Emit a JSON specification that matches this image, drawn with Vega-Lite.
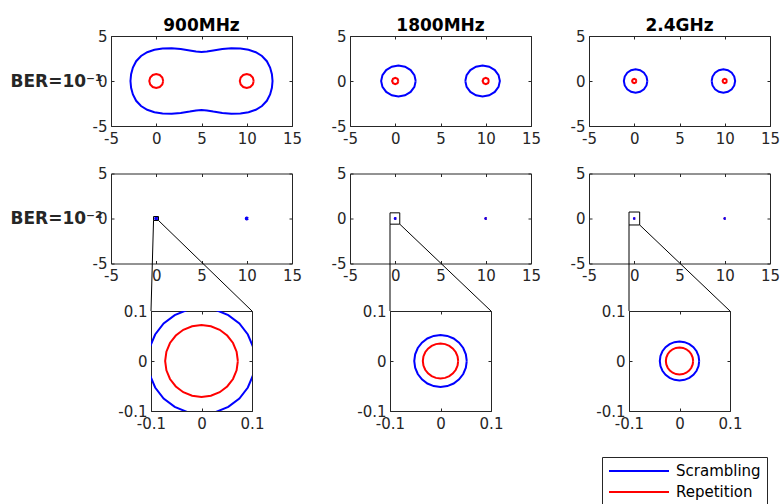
{
  "$schema": "https://vega.github.io/schema/vega-lite/v6.json",
  "autosize": "none",
  "padding": {"left": 111, "top": 36, "right": 672, "bottom": 468},
  "config": {
    "font": "DejaVu Sans",
    "view": {"stroke": null},
    "locale": {"number": {"decimal": ".", "thousands": ",", "grouping": [3], "currency": ["$", ""], "minus": "-"}},
    "axis": {"grid": false, "domainColor": "#262626", "domainWidth": 1, "tickColor": "#262626", "tickWidth": 1, "tickSize": -3, "labelColor": "#262626", "labelFont": "DejaVu Sans", "labelFontSize": 15, "labelFlush": false, "labelOverlap": false},
    "axisBottom": {"labelPadding": 8},
    "axisLeft": {"labelPadding": 7},
    "axisTop": {"labels": false},
    "axisRight": {"labels": false},
    "title": {"font": "DejaVu Sans", "fontSize": 17, "fontWeight": "bold", "color": "#000000", "frame": "group", "anchor": "middle", "baseline": "alphabetic", "offset": -6}
  },
  "datasets": {
    "a1": [
      {"m":"Scrambling","c":1,"x":-2.85,"y":0},{"m":"Scrambling","c":1,"x":-2.78,"y":0.75},{"m":"Scrambling","c":1,"x":-2.58,"y":1.5},{"m":"Scrambling","c":1,"x":-2.22,"y":2.2},{"m":"Scrambling","c":1,"x":-1.68,"y":2.78},{"m":"Scrambling","c":1,"x":-1,"y":3.2},{"m":"Scrambling","c":1,"x":-0.2,"y":3.47},{"m":"Scrambling","c":1,"x":0.7,"y":3.6},{"m":"Scrambling","c":1,"x":1.7,"y":3.63},{"m":"Scrambling","c":1,"x":2.7,"y":3.55},{"m":"Scrambling","c":1,"x":3.7,"y":3.4},{"m":"Scrambling","c":1,"x":4.4,"y":3.27},{"m":"Scrambling","c":1,"x":5,"y":3.23},{"m":"Scrambling","c":1,"x":5.6,"y":3.27},{"m":"Scrambling","c":1,"x":6.3,"y":3.4},{"m":"Scrambling","c":1,"x":7.3,"y":3.55},{"m":"Scrambling","c":1,"x":8.3,"y":3.63},{"m":"Scrambling","c":1,"x":9.3,"y":3.6},{"m":"Scrambling","c":1,"x":10.2,"y":3.47},{"m":"Scrambling","c":1,"x":11,"y":3.2},{"m":"Scrambling","c":1,"x":11.68,"y":2.78},{"m":"Scrambling","c":1,"x":12.22,"y":2.2},{"m":"Scrambling","c":1,"x":12.58,"y":1.5},{"m":"Scrambling","c":1,"x":12.78,"y":0.75},{"m":"Scrambling","c":1,"x":12.85,"y":0},
      {"m":"Scrambling","c":1,"x":12.78,"y":-0.75},{"m":"Scrambling","c":1,"x":12.58,"y":-1.5},{"m":"Scrambling","c":1,"x":12.22,"y":-2.2},{"m":"Scrambling","c":1,"x":11.68,"y":-2.78},{"m":"Scrambling","c":1,"x":11,"y":-3.2},{"m":"Scrambling","c":1,"x":10.2,"y":-3.47},{"m":"Scrambling","c":1,"x":9.3,"y":-3.6},{"m":"Scrambling","c":1,"x":8.3,"y":-3.63},{"m":"Scrambling","c":1,"x":7.3,"y":-3.55},{"m":"Scrambling","c":1,"x":6.3,"y":-3.4},{"m":"Scrambling","c":1,"x":5.6,"y":-3.27},{"m":"Scrambling","c":1,"x":5,"y":-3.23},{"m":"Scrambling","c":1,"x":4.4,"y":-3.27},{"m":"Scrambling","c":1,"x":3.7,"y":-3.4},{"m":"Scrambling","c":1,"x":2.7,"y":-3.55},{"m":"Scrambling","c":1,"x":1.7,"y":-3.63},{"m":"Scrambling","c":1,"x":0.7,"y":-3.6},{"m":"Scrambling","c":1,"x":-0.2,"y":-3.47},{"m":"Scrambling","c":1,"x":-1,"y":-3.2},{"m":"Scrambling","c":1,"x":-1.68,"y":-2.78},{"m":"Scrambling","c":1,"x":-2.22,"y":-2.2},{"m":"Scrambling","c":1,"x":-2.58,"y":-1.5},{"m":"Scrambling","c":1,"x":-2.78,"y":-0.75},{"m":"Scrambling","c":1,"x":-2.85,"y":0},
      {"m":"Repetition","c":2,"x":0.77,"y":0},{"m":"Repetition","c":2,"x":0.667,"y":0.385},{"m":"Repetition","c":2,"x":0.385,"y":0.667},{"m":"Repetition","c":2,"x":0,"y":0.77},{"m":"Repetition","c":2,"x":-0.385,"y":0.667},{"m":"Repetition","c":2,"x":-0.667,"y":0.385},{"m":"Repetition","c":2,"x":-0.77,"y":0},{"m":"Repetition","c":2,"x":-0.667,"y":-0.385},{"m":"Repetition","c":2,"x":-0.385,"y":-0.667},{"m":"Repetition","c":2,"x":0,"y":-0.77},{"m":"Repetition","c":2,"x":0.385,"y":-0.667},{"m":"Repetition","c":2,"x":0.667,"y":-0.385},{"m":"Repetition","c":2,"x":0.77,"y":0},
      {"m":"Repetition","c":3,"x":10.77,"y":0},{"m":"Repetition","c":3,"x":10.667,"y":0.385},{"m":"Repetition","c":3,"x":10.385,"y":0.667},{"m":"Repetition","c":3,"x":10,"y":0.77},{"m":"Repetition","c":3,"x":9.615,"y":0.667},{"m":"Repetition","c":3,"x":9.333,"y":0.385},{"m":"Repetition","c":3,"x":9.23,"y":0},{"m":"Repetition","c":3,"x":9.333,"y":-0.385},{"m":"Repetition","c":3,"x":9.615,"y":-0.667},{"m":"Repetition","c":3,"x":10,"y":-0.77},{"m":"Repetition","c":3,"x":10.385,"y":-0.667},{"m":"Repetition","c":3,"x":10.667,"y":-0.385},{"m":"Repetition","c":3,"x":10.77,"y":0}
    ],
    "b1": [
      {"m":"Scrambling","c":1,"x":2.26,"y":0},{"m":"Scrambling","c":1,"x":2.115,"y":0.658},{"m":"Scrambling","c":1,"x":1.701,"y":1.216},{"m":"Scrambling","c":1,"x":1.081,"y":1.589},{"m":"Scrambling","c":1,"x":0.35,"y":1.72},{"m":"Scrambling","c":1,"x":-0.381,"y":1.589},{"m":"Scrambling","c":1,"x":-1.001,"y":1.216},{"m":"Scrambling","c":1,"x":-1.415,"y":0.658},{"m":"Scrambling","c":1,"x":-1.56,"y":0},{"m":"Scrambling","c":1,"x":-1.415,"y":-0.658},{"m":"Scrambling","c":1,"x":-1.001,"y":-1.216},{"m":"Scrambling","c":1,"x":-0.381,"y":-1.589},{"m":"Scrambling","c":1,"x":0.35,"y":-1.72},{"m":"Scrambling","c":1,"x":1.081,"y":-1.589},{"m":"Scrambling","c":1,"x":1.701,"y":-1.216},{"m":"Scrambling","c":1,"x":2.115,"y":-0.658},{"m":"Scrambling","c":1,"x":2.26,"y":0},
      {"m":"Scrambling","c":2,"x":7.74,"y":0},{"m":"Scrambling","c":2,"x":7.885,"y":0.658},{"m":"Scrambling","c":2,"x":8.299,"y":1.216},{"m":"Scrambling","c":2,"x":8.919,"y":1.589},{"m":"Scrambling","c":2,"x":9.65,"y":1.72},{"m":"Scrambling","c":2,"x":10.381,"y":1.589},{"m":"Scrambling","c":2,"x":11.001,"y":1.216},{"m":"Scrambling","c":2,"x":11.415,"y":0.658},{"m":"Scrambling","c":2,"x":11.56,"y":0},{"m":"Scrambling","c":2,"x":11.415,"y":-0.658},{"m":"Scrambling","c":2,"x":11.001,"y":-1.216},{"m":"Scrambling","c":2,"x":10.381,"y":-1.589},{"m":"Scrambling","c":2,"x":9.65,"y":-1.72},{"m":"Scrambling","c":2,"x":8.919,"y":-1.589},{"m":"Scrambling","c":2,"x":8.299,"y":-1.216},{"m":"Scrambling","c":2,"x":7.885,"y":-0.658},{"m":"Scrambling","c":2,"x":7.74,"y":0},
      {"m":"Repetition","c":3,"x":0.35,"y":0},{"m":"Repetition","c":3,"x":0.247,"y":0.247},{"m":"Repetition","c":3,"x":0,"y":0.35},{"m":"Repetition","c":3,"x":-0.247,"y":0.247},{"m":"Repetition","c":3,"x":-0.35,"y":0},{"m":"Repetition","c":3,"x":-0.247,"y":-0.247},{"m":"Repetition","c":3,"x":0,"y":-0.35},{"m":"Repetition","c":3,"x":0.247,"y":-0.247},{"m":"Repetition","c":3,"x":0.35,"y":0},
      {"m":"Repetition","c":4,"x":10.35,"y":0},{"m":"Repetition","c":4,"x":10.247,"y":0.247},{"m":"Repetition","c":4,"x":10,"y":0.35},{"m":"Repetition","c":4,"x":9.753,"y":0.247},{"m":"Repetition","c":4,"x":9.65,"y":0},{"m":"Repetition","c":4,"x":9.753,"y":-0.247},{"m":"Repetition","c":4,"x":10,"y":-0.35},{"m":"Repetition","c":4,"x":10.247,"y":-0.247},{"m":"Repetition","c":4,"x":10.35,"y":0}
    ],
    "c1": [
      {"m":"Scrambling","c":1,"x":1.45,"y":0},{"m":"Scrambling","c":1,"x":1.351,"y":0.497},{"m":"Scrambling","c":1,"x":1.069,"y":0.919},{"m":"Scrambling","c":1,"x":0.647,"y":1.201},{"m":"Scrambling","c":1,"x":0.15,"y":1.3},{"m":"Scrambling","c":1,"x":-0.347,"y":1.201},{"m":"Scrambling","c":1,"x":-0.769,"y":0.919},{"m":"Scrambling","c":1,"x":-1.051,"y":0.497},{"m":"Scrambling","c":1,"x":-1.15,"y":0},{"m":"Scrambling","c":1,"x":-1.051,"y":-0.497},{"m":"Scrambling","c":1,"x":-0.769,"y":-0.919},{"m":"Scrambling","c":1,"x":-0.347,"y":-1.201},{"m":"Scrambling","c":1,"x":0.15,"y":-1.3},{"m":"Scrambling","c":1,"x":0.647,"y":-1.201},{"m":"Scrambling","c":1,"x":1.069,"y":-0.919},{"m":"Scrambling","c":1,"x":1.351,"y":-0.497},{"m":"Scrambling","c":1,"x":1.45,"y":0},
      {"m":"Scrambling","c":2,"x":8.55,"y":0},{"m":"Scrambling","c":2,"x":8.649,"y":0.497},{"m":"Scrambling","c":2,"x":8.931,"y":0.919},{"m":"Scrambling","c":2,"x":9.353,"y":1.201},{"m":"Scrambling","c":2,"x":9.85,"y":1.3},{"m":"Scrambling","c":2,"x":10.347,"y":1.201},{"m":"Scrambling","c":2,"x":10.769,"y":0.919},{"m":"Scrambling","c":2,"x":11.051,"y":0.497},{"m":"Scrambling","c":2,"x":11.15,"y":0},{"m":"Scrambling","c":2,"x":11.051,"y":-0.497},{"m":"Scrambling","c":2,"x":10.769,"y":-0.919},{"m":"Scrambling","c":2,"x":10.347,"y":-1.201},{"m":"Scrambling","c":2,"x":9.85,"y":-1.3},{"m":"Scrambling","c":2,"x":9.353,"y":-1.201},{"m":"Scrambling","c":2,"x":8.931,"y":-0.919},{"m":"Scrambling","c":2,"x":8.649,"y":-0.497},{"m":"Scrambling","c":2,"x":8.55,"y":0},
      {"m":"Repetition","c":3,"x":0.24,"y":0},{"m":"Repetition","c":3,"x":0.17,"y":0.17},{"m":"Repetition","c":3,"x":0,"y":0.24},{"m":"Repetition","c":3,"x":-0.17,"y":0.17},{"m":"Repetition","c":3,"x":-0.24,"y":0},{"m":"Repetition","c":3,"x":-0.17,"y":-0.17},{"m":"Repetition","c":3,"x":0,"y":-0.24},{"m":"Repetition","c":3,"x":0.17,"y":-0.17},{"m":"Repetition","c":3,"x":0.24,"y":0},
      {"m":"Repetition","c":4,"x":10.24,"y":0},{"m":"Repetition","c":4,"x":10.17,"y":0.17},{"m":"Repetition","c":4,"x":10,"y":0.24},{"m":"Repetition","c":4,"x":9.83,"y":0.17},{"m":"Repetition","c":4,"x":9.76,"y":0},{"m":"Repetition","c":4,"x":9.83,"y":-0.17},{"m":"Repetition","c":4,"x":10,"y":-0.24},{"m":"Repetition","c":4,"x":10.17,"y":-0.17},{"m":"Repetition","c":4,"x":10.24,"y":0}
    ],
    "a2": [
      {"m":"Scrambling","c":1,"x":0.106,"y":0},{"m":"Scrambling","c":1,"x":0.1024,"y":0.0274},{"m":"Scrambling","c":1,"x":0.0918,"y":0.053},{"m":"Scrambling","c":1,"x":0.075,"y":0.075},{"m":"Scrambling","c":1,"x":0.053,"y":0.0918},{"m":"Scrambling","c":1,"x":0.0274,"y":0.1024},{"m":"Scrambling","c":1,"x":0,"y":0.106},{"m":"Scrambling","c":1,"x":-0.0274,"y":0.1024},{"m":"Scrambling","c":1,"x":-0.053,"y":0.0918},{"m":"Scrambling","c":1,"x":-0.075,"y":0.075},{"m":"Scrambling","c":1,"x":-0.0918,"y":0.053},{"m":"Scrambling","c":1,"x":-0.1024,"y":0.0274},{"m":"Scrambling","c":1,"x":-0.106,"y":0},{"m":"Scrambling","c":1,"x":-0.1024,"y":-0.0274},{"m":"Scrambling","c":1,"x":-0.0918,"y":-0.053},{"m":"Scrambling","c":1,"x":-0.075,"y":-0.075},{"m":"Scrambling","c":1,"x":-0.053,"y":-0.0918},{"m":"Scrambling","c":1,"x":-0.0274,"y":-0.1024},{"m":"Scrambling","c":1,"x":0,"y":-0.106},{"m":"Scrambling","c":1,"x":0.0274,"y":-0.1024},{"m":"Scrambling","c":1,"x":0.053,"y":-0.0918},{"m":"Scrambling","c":1,"x":0.075,"y":-0.075},{"m":"Scrambling","c":1,"x":0.0918,"y":-0.053},{"m":"Scrambling","c":1,"x":0.1024,"y":-0.0274},{"m":"Scrambling","c":1,"x":0.106,"y":0},
      {"m":"Scrambling","c":2,"x":10.106,"y":0},{"m":"Scrambling","c":2,"x":10.075,"y":0.075},{"m":"Scrambling","c":2,"x":10,"y":0.106},{"m":"Scrambling","c":2,"x":9.925,"y":0.075},{"m":"Scrambling","c":2,"x":9.894,"y":0},{"m":"Scrambling","c":2,"x":9.925,"y":-0.075},{"m":"Scrambling","c":2,"x":10,"y":-0.106},{"m":"Scrambling","c":2,"x":10.075,"y":-0.075},{"m":"Scrambling","c":2,"x":10.106,"y":0},
      {"m":"Repetition","c":3,"x":0.072,"y":0},{"m":"Repetition","c":3,"x":0.0695,"y":0.0186},{"m":"Repetition","c":3,"x":0.0624,"y":0.036},{"m":"Repetition","c":3,"x":0.0509,"y":0.0509},{"m":"Repetition","c":3,"x":0.036,"y":0.0624},{"m":"Repetition","c":3,"x":0.0186,"y":0.0695},{"m":"Repetition","c":3,"x":0,"y":0.072},{"m":"Repetition","c":3,"x":-0.0186,"y":0.0695},{"m":"Repetition","c":3,"x":-0.036,"y":0.0624},{"m":"Repetition","c":3,"x":-0.0509,"y":0.0509},{"m":"Repetition","c":3,"x":-0.0624,"y":0.036},{"m":"Repetition","c":3,"x":-0.0695,"y":0.0186},{"m":"Repetition","c":3,"x":-0.072,"y":0},{"m":"Repetition","c":3,"x":-0.0695,"y":-0.0186},{"m":"Repetition","c":3,"x":-0.0624,"y":-0.036},{"m":"Repetition","c":3,"x":-0.0509,"y":-0.0509},{"m":"Repetition","c":3,"x":-0.036,"y":-0.0624},{"m":"Repetition","c":3,"x":-0.0186,"y":-0.0695},{"m":"Repetition","c":3,"x":0,"y":-0.072},{"m":"Repetition","c":3,"x":0.0186,"y":-0.0695},{"m":"Repetition","c":3,"x":0.036,"y":-0.0624},{"m":"Repetition","c":3,"x":0.0509,"y":-0.0509},{"m":"Repetition","c":3,"x":0.0624,"y":-0.036},{"m":"Repetition","c":3,"x":0.0695,"y":-0.0186},{"m":"Repetition","c":3,"x":0.072,"y":0},
      {"m":"Repetition","c":4,"x":10.072,"y":0},{"m":"Repetition","c":4,"x":10.051,"y":0.051},{"m":"Repetition","c":4,"x":10,"y":0.072},{"m":"Repetition","c":4,"x":9.949,"y":0.051},{"m":"Repetition","c":4,"x":9.928,"y":0},{"m":"Repetition","c":4,"x":9.949,"y":-0.051},{"m":"Repetition","c":4,"x":10,"y":-0.072},{"m":"Repetition","c":4,"x":10.051,"y":-0.051},{"m":"Repetition","c":4,"x":10.072,"y":0}
    ],
    "b2": [
      {"m":"Scrambling","c":1,"x":0.052,"y":0},{"m":"Scrambling","c":1,"x":0.0502,"y":0.0135},{"m":"Scrambling","c":1,"x":0.045,"y":0.026},{"m":"Scrambling","c":1,"x":0.0368,"y":0.0368},{"m":"Scrambling","c":1,"x":0.026,"y":0.045},{"m":"Scrambling","c":1,"x":0.0135,"y":0.0502},{"m":"Scrambling","c":1,"x":0,"y":0.052},{"m":"Scrambling","c":1,"x":-0.0135,"y":0.0502},{"m":"Scrambling","c":1,"x":-0.026,"y":0.045},{"m":"Scrambling","c":1,"x":-0.0368,"y":0.0368},{"m":"Scrambling","c":1,"x":-0.045,"y":0.026},{"m":"Scrambling","c":1,"x":-0.0502,"y":0.0135},{"m":"Scrambling","c":1,"x":-0.052,"y":0},{"m":"Scrambling","c":1,"x":-0.0502,"y":-0.0135},{"m":"Scrambling","c":1,"x":-0.045,"y":-0.026},{"m":"Scrambling","c":1,"x":-0.0368,"y":-0.0368},{"m":"Scrambling","c":1,"x":-0.026,"y":-0.045},{"m":"Scrambling","c":1,"x":-0.0135,"y":-0.0502},{"m":"Scrambling","c":1,"x":0,"y":-0.052},{"m":"Scrambling","c":1,"x":0.0135,"y":-0.0502},{"m":"Scrambling","c":1,"x":0.026,"y":-0.045},{"m":"Scrambling","c":1,"x":0.0368,"y":-0.0368},{"m":"Scrambling","c":1,"x":0.045,"y":-0.026},{"m":"Scrambling","c":1,"x":0.0502,"y":-0.0135},{"m":"Scrambling","c":1,"x":0.052,"y":0},
      {"m":"Scrambling","c":2,"x":10.052,"y":0},{"m":"Scrambling","c":2,"x":10.037,"y":0.037},{"m":"Scrambling","c":2,"x":10,"y":0.052},{"m":"Scrambling","c":2,"x":9.963,"y":0.037},{"m":"Scrambling","c":2,"x":9.948,"y":0},{"m":"Scrambling","c":2,"x":9.963,"y":-0.037},{"m":"Scrambling","c":2,"x":10,"y":-0.052},{"m":"Scrambling","c":2,"x":10.037,"y":-0.037},{"m":"Scrambling","c":2,"x":10.052,"y":0},
      {"m":"Repetition","c":3,"x":0.035,"y":0},{"m":"Repetition","c":3,"x":0.0338,"y":0.0091},{"m":"Repetition","c":3,"x":0.0303,"y":0.0175},{"m":"Repetition","c":3,"x":0.0247,"y":0.0247},{"m":"Repetition","c":3,"x":0.0175,"y":0.0303},{"m":"Repetition","c":3,"x":0.0091,"y":0.0338},{"m":"Repetition","c":3,"x":0,"y":0.035},{"m":"Repetition","c":3,"x":-0.0091,"y":0.0338},{"m":"Repetition","c":3,"x":-0.0175,"y":0.0303},{"m":"Repetition","c":3,"x":-0.0247,"y":0.0247},{"m":"Repetition","c":3,"x":-0.0303,"y":0.0175},{"m":"Repetition","c":3,"x":-0.0338,"y":0.0091},{"m":"Repetition","c":3,"x":-0.035,"y":0},{"m":"Repetition","c":3,"x":-0.0338,"y":-0.0091},{"m":"Repetition","c":3,"x":-0.0303,"y":-0.0175},{"m":"Repetition","c":3,"x":-0.0247,"y":-0.0247},{"m":"Repetition","c":3,"x":-0.0175,"y":-0.0303},{"m":"Repetition","c":3,"x":-0.0091,"y":-0.0338},{"m":"Repetition","c":3,"x":0,"y":-0.035},{"m":"Repetition","c":3,"x":0.0091,"y":-0.0338},{"m":"Repetition","c":3,"x":0.0175,"y":-0.0303},{"m":"Repetition","c":3,"x":0.0247,"y":-0.0247},{"m":"Repetition","c":3,"x":0.0303,"y":-0.0175},{"m":"Repetition","c":3,"x":0.0338,"y":-0.0091},{"m":"Repetition","c":3,"x":0.035,"y":0},
      {"m":"Repetition","c":4,"x":10.035,"y":0},{"m":"Repetition","c":4,"x":10.025,"y":0.025},{"m":"Repetition","c":4,"x":10,"y":0.035},{"m":"Repetition","c":4,"x":9.975,"y":0.025},{"m":"Repetition","c":4,"x":9.965,"y":0},{"m":"Repetition","c":4,"x":9.975,"y":-0.025},{"m":"Repetition","c":4,"x":10,"y":-0.035},{"m":"Repetition","c":4,"x":10.025,"y":-0.025},{"m":"Repetition","c":4,"x":10.035,"y":0}
    ],
    "c2": [
      {"m":"Scrambling","c":1,"x":0.039,"y":0},{"m":"Scrambling","c":1,"x":0.0377,"y":0.0101},{"m":"Scrambling","c":1,"x":0.0338,"y":0.0195},{"m":"Scrambling","c":1,"x":0.0276,"y":0.0276},{"m":"Scrambling","c":1,"x":0.0195,"y":0.0338},{"m":"Scrambling","c":1,"x":0.0101,"y":0.0377},{"m":"Scrambling","c":1,"x":0,"y":0.039},{"m":"Scrambling","c":1,"x":-0.0101,"y":0.0377},{"m":"Scrambling","c":1,"x":-0.0195,"y":0.0338},{"m":"Scrambling","c":1,"x":-0.0276,"y":0.0276},{"m":"Scrambling","c":1,"x":-0.0338,"y":0.0195},{"m":"Scrambling","c":1,"x":-0.0377,"y":0.0101},{"m":"Scrambling","c":1,"x":-0.039,"y":0},{"m":"Scrambling","c":1,"x":-0.0377,"y":-0.0101},{"m":"Scrambling","c":1,"x":-0.0338,"y":-0.0195},{"m":"Scrambling","c":1,"x":-0.0276,"y":-0.0276},{"m":"Scrambling","c":1,"x":-0.0195,"y":-0.0338},{"m":"Scrambling","c":1,"x":-0.0101,"y":-0.0377},{"m":"Scrambling","c":1,"x":0,"y":-0.039},{"m":"Scrambling","c":1,"x":0.0101,"y":-0.0377},{"m":"Scrambling","c":1,"x":0.0195,"y":-0.0338},{"m":"Scrambling","c":1,"x":0.0276,"y":-0.0276},{"m":"Scrambling","c":1,"x":0.0338,"y":-0.0195},{"m":"Scrambling","c":1,"x":0.0377,"y":-0.0101},{"m":"Scrambling","c":1,"x":0.039,"y":0},
      {"m":"Scrambling","c":2,"x":10.039,"y":0},{"m":"Scrambling","c":2,"x":10.028,"y":0.028},{"m":"Scrambling","c":2,"x":10,"y":0.039},{"m":"Scrambling","c":2,"x":9.972,"y":0.028},{"m":"Scrambling","c":2,"x":9.961,"y":0},{"m":"Scrambling","c":2,"x":9.972,"y":-0.028},{"m":"Scrambling","c":2,"x":10,"y":-0.039},{"m":"Scrambling","c":2,"x":10.028,"y":-0.028},{"m":"Scrambling","c":2,"x":10.039,"y":0},
      {"m":"Repetition","c":3,"x":0.027,"y":0},{"m":"Repetition","c":3,"x":0.0261,"y":0.007},{"m":"Repetition","c":3,"x":0.0234,"y":0.0135},{"m":"Repetition","c":3,"x":0.0191,"y":0.0191},{"m":"Repetition","c":3,"x":0.0135,"y":0.0234},{"m":"Repetition","c":3,"x":0.007,"y":0.0261},{"m":"Repetition","c":3,"x":0,"y":0.027},{"m":"Repetition","c":3,"x":-0.007,"y":0.0261},{"m":"Repetition","c":3,"x":-0.0135,"y":0.0234},{"m":"Repetition","c":3,"x":-0.0191,"y":0.0191},{"m":"Repetition","c":3,"x":-0.0234,"y":0.0135},{"m":"Repetition","c":3,"x":-0.0261,"y":0.007},{"m":"Repetition","c":3,"x":-0.027,"y":0},{"m":"Repetition","c":3,"x":-0.0261,"y":-0.007},{"m":"Repetition","c":3,"x":-0.0234,"y":-0.0135},{"m":"Repetition","c":3,"x":-0.0191,"y":-0.0191},{"m":"Repetition","c":3,"x":-0.0135,"y":-0.0234},{"m":"Repetition","c":3,"x":-0.007,"y":-0.0261},{"m":"Repetition","c":3,"x":0,"y":-0.027},{"m":"Repetition","c":3,"x":0.007,"y":-0.0261},{"m":"Repetition","c":3,"x":0.0135,"y":-0.0234},{"m":"Repetition","c":3,"x":0.0191,"y":-0.0191},{"m":"Repetition","c":3,"x":0.0234,"y":-0.0135},{"m":"Repetition","c":3,"x":0.0261,"y":-0.007},{"m":"Repetition","c":3,"x":0.027,"y":0},
      {"m":"Repetition","c":4,"x":10.027,"y":0},{"m":"Repetition","c":4,"x":10.019,"y":0.019},{"m":"Repetition","c":4,"x":10,"y":0.027},{"m":"Repetition","c":4,"x":9.981,"y":0.019},{"m":"Repetition","c":4,"x":9.973,"y":0},{"m":"Repetition","c":4,"x":9.981,"y":-0.019},{"m":"Repetition","c":4,"x":10,"y":-0.027},{"m":"Repetition","c":4,"x":10.019,"y":-0.019},{"m":"Repetition","c":4,"x":10.027,"y":0}
    ]
  },
  "spacing": 29,
  "bounds": "full",
  "resolve": {"scale": {"x": "independent", "y": "independent", "color": "shared"}, "legend": {"color": "shared"}},
  "hconcat": [
    {
      "columns": 1, "align": "each", "center": true, "bounds": "flush", "spacing": 47.5,
      "resolve": {"scale": {"x": "independent", "y": "independent", "color": "shared"}},
      "concat": [
        {
          "width": 181, "height": 90, "data": {"name": "a1"}, "title": {"text": "900MHz"},
          "layer": [
            {"transform": [{"filter": "datum.m === 'Repetition'"}], "mark": {"type": "line", "strokeWidth": 2},
             "encoding": {
               "x": {"field": "x", "type": "quantitative", "scale": {"domain": [-5, 15], "nice": false, "zero": false}, "axis": {"orient": "bottom", "values": [-5, 0, 5, 10, 15], "title": null}},
               "y": {"field": "y", "type": "quantitative", "scale": {"domain": [-5, 5], "nice": false, "zero": false}, "axis": {"orient": "left", "values": [-5, 0, 5], "title": "BER=10⁻¹", "titleAngle": 0, "titleAlign": "left", "titleBaseline": "middle", "titleX": -101, "titleY": 45, "titleFontSize": 17, "titleFontWeight": "bold", "titleColor": "#262626", "titleFont": "DejaVu Sans"}},
               "color": {"field": "m", "type": "nominal", "scale": {"domain": ["Scrambling", "Repetition"], "range": ["#0000ff", "#ff0000"]},
                 "legend": {"title": null, "orient": "none", "legendX": 491, "legendY": 421, "direction": "vertical", "symbolType": "stroke", "symbolSize": 3600, "symbolStrokeWidth": 2, "clipHeight": 16, "rowPadding": 5, "padding": 6, "labelOffset": 6, "labelFont": "DejaVu Sans", "labelFontSize": 15, "labelColor": "#000000", "strokeColor": "#262626", "fillColor": "#ffffff"}},
               "detail": {"field": "c", "type": "nominal"},
               "order": {"value": null}}},
            {"transform": [{"filter": "datum.m === 'Scrambling'"}], "mark": {"type": "line", "strokeWidth": 2},
             "encoding": {
               "x": {"field": "x", "type": "quantitative", "scale": {"domain": [-5, 15], "nice": false, "zero": false}, "axis": {"orient": "top", "values": [-5, 0, 5, 10, 15], "title": null}},
               "y": {"field": "y", "type": "quantitative", "scale": {"domain": [-5, 5], "nice": false, "zero": false}, "axis": {"orient": "right", "values": [-5, 0, 5], "title": null}},
               "color": {"field": "m", "type": "nominal", "scale": {"domain": ["Scrambling", "Repetition"], "range": ["#0000ff", "#ff0000"]}},
               "detail": {"field": "c", "type": "nominal"},
               "order": {"value": null}}}
          ],
          "resolve": {"axis": {"x": "independent", "y": "independent"}}
        },
        {
          "width": 181, "height": 90, "data": {"name": "a2"},
          "layer": [
            {"transform": [{"filter": "datum.m === 'Repetition'"}], "mark": {"type": "line", "strokeWidth": 2},
             "encoding": {
               "x": {"field": "x", "type": "quantitative", "scale": {"domain": [-5, 15], "nice": false, "zero": false}, "axis": {"orient": "bottom", "values": [-5, 0, 5, 10, 15], "title": null}},
               "y": {"field": "y", "type": "quantitative", "scale": {"domain": [-5, 5], "nice": false, "zero": false}, "axis": {"orient": "left", "values": [-5, 0, 5], "title": "BER=10⁻²", "titleAngle": 0, "titleAlign": "left", "titleBaseline": "middle", "titleX": -101, "titleY": 45, "titleFontSize": 17, "titleFontWeight": "bold", "titleColor": "#262626", "titleFont": "DejaVu Sans"}},
               "color": {"field": "m", "type": "nominal", "scale": {"domain": ["Scrambling", "Repetition"], "range": ["#0000ff", "#ff0000"]}},
               "detail": {"field": "c", "type": "nominal"},
               "order": {"value": null}}},
            {"transform": [{"filter": "datum.m === 'Scrambling'"}], "mark": {"type": "line", "strokeWidth": 2},
             "encoding": {
               "x": {"field": "x", "type": "quantitative", "scale": {"domain": [-5, 15], "nice": false, "zero": false}, "axis": {"orient": "top", "values": [-5, 0, 5, 10, 15], "title": null}},
               "y": {"field": "y", "type": "quantitative", "scale": {"domain": [-5, 5], "nice": false, "zero": false}, "axis": {"orient": "right", "values": [-5, 0, 5], "title": null}},
               "color": {"field": "m", "type": "nominal", "scale": {"domain": ["Scrambling", "Repetition"], "range": ["#0000ff", "#ff0000"]}},
               "detail": {"field": "c", "type": "nominal"},
               "order": {"value": null}}},
            {"data": {"values": [{"x": -0.3, "x2": 0.25, "y": -0.22, "y2": 0.22}]},
             "mark": {"type": "rect", "filled": false, "color": "#000000", "strokeWidth": 1},
             "encoding": {
               "x": {"field": "x", "type": "quantitative", "scale": {"domain": [-5, 15], "nice": false, "zero": false}, "axis": null},
               "x2": {"field": "x2"},
               "y": {"field": "y", "type": "quantitative", "scale": {"domain": [-5, 5], "nice": false, "zero": false}, "axis": null},
               "y2": {"field": "y2"}}},
            {"data": {"values": [{"x": -0.3, "y": -0.22, "x2": -0.58, "y2": -10.278}, {"x": 0.25, "y": -0.22, "x2": 10.58, "y2": -10.278}]},
             "mark": {"type": "rule", "color": "#000000", "strokeWidth": 1},
             "encoding": {
               "x": {"field": "x", "type": "quantitative", "scale": {"domain": [-5, 15], "nice": false, "zero": false}, "axis": null},
               "x2": {"field": "x2"},
               "y": {"field": "y", "type": "quantitative", "scale": {"domain": [-5, 5], "nice": false, "zero": false}, "axis": null},
               "y2": {"field": "y2"}}}
          ],
          "resolve": {"axis": {"x": "independent", "y": "independent"}}
        },
        {
          "width": 101, "height": 100, "data": {"name": "a2"},
          "layer": [
            {"transform": [{"filter": "datum.m === 'Repetition'"}], "mark": {"type": "line", "strokeWidth": 2, "clip": true},
             "encoding": {
               "x": {"field": "x", "type": "quantitative", "scale": {"domain": [-0.1, 0.1], "nice": false, "zero": false}, "axis": {"orient": "bottom", "values": [-0.1, 0, 0.1], "format": "~g", "title": null}},
               "y": {"field": "y", "type": "quantitative", "scale": {"domain": [-0.1, 0.1], "nice": false, "zero": false}, "axis": {"orient": "left", "values": [-0.1, 0, 0.1], "format": "~g", "title": null}},
               "color": {"field": "m", "type": "nominal", "scale": {"domain": ["Scrambling", "Repetition"], "range": ["#0000ff", "#ff0000"]}},
               "detail": {"field": "c", "type": "nominal"},
               "order": {"value": null}}},
            {"transform": [{"filter": "datum.m === 'Scrambling'"}], "mark": {"type": "line", "strokeWidth": 2, "clip": true},
             "encoding": {
               "x": {"field": "x", "type": "quantitative", "scale": {"domain": [-0.1, 0.1], "nice": false, "zero": false}, "axis": {"orient": "top", "values": [-0.1, 0, 0.1], "title": null}},
               "y": {"field": "y", "type": "quantitative", "scale": {"domain": [-0.1, 0.1], "nice": false, "zero": false}, "axis": {"orient": "right", "values": [-0.1, 0, 0.1], "title": null}},
               "color": {"field": "m", "type": "nominal", "scale": {"domain": ["Scrambling", "Repetition"], "range": ["#0000ff", "#ff0000"]}},
               "detail": {"field": "c", "type": "nominal"},
               "order": {"value": null}}}
          ],
          "resolve": {"axis": {"x": "independent", "y": "independent"}}
        }
      ]
    },
    {
      "columns": 1, "align": "each", "center": true, "bounds": "flush", "spacing": 47.5,
      "resolve": {"scale": {"x": "independent", "y": "independent", "color": "shared"}},
      "concat": [
        {
          "width": 181, "height": 90, "data": {"name": "b1"}, "title": {"text": "1800MHz"},
          "layer": [
            {"transform": [{"filter": "datum.m === 'Repetition'"}], "mark": {"type": "line", "strokeWidth": 2},
             "encoding": {
               "x": {"field": "x", "type": "quantitative", "scale": {"domain": [-5, 15], "nice": false, "zero": false}, "axis": {"orient": "bottom", "values": [-5, 0, 5, 10, 15], "title": null}},
               "y": {"field": "y", "type": "quantitative", "scale": {"domain": [-5, 5], "nice": false, "zero": false}, "axis": {"orient": "left", "values": [-5, 0, 5], "title": null}},
               "color": {"field": "m", "type": "nominal", "scale": {"domain": ["Scrambling", "Repetition"], "range": ["#0000ff", "#ff0000"]}},
               "detail": {"field": "c", "type": "nominal"},
               "order": {"value": null}}},
            {"transform": [{"filter": "datum.m === 'Scrambling'"}], "mark": {"type": "line", "strokeWidth": 2},
             "encoding": {
               "x": {"field": "x", "type": "quantitative", "scale": {"domain": [-5, 15], "nice": false, "zero": false}, "axis": {"orient": "top", "values": [-5, 0, 5, 10, 15], "title": null}},
               "y": {"field": "y", "type": "quantitative", "scale": {"domain": [-5, 5], "nice": false, "zero": false}, "axis": {"orient": "right", "values": [-5, 0, 5], "title": null}},
               "color": {"field": "m", "type": "nominal", "scale": {"domain": ["Scrambling", "Repetition"], "range": ["#0000ff", "#ff0000"]}},
               "detail": {"field": "c", "type": "nominal"},
               "order": {"value": null}}}
          ],
          "resolve": {"axis": {"x": "independent", "y": "independent"}}
        },
        {
          "width": 181, "height": 90, "data": {"name": "b2"},
          "layer": [
            {"transform": [{"filter": "datum.m === 'Repetition'"}], "mark": {"type": "line", "strokeWidth": 2},
             "encoding": {
               "x": {"field": "x", "type": "quantitative", "scale": {"domain": [-5, 15], "nice": false, "zero": false}, "axis": {"orient": "bottom", "values": [-5, 0, 5, 10, 15], "title": null}},
               "y": {"field": "y", "type": "quantitative", "scale": {"domain": [-5, 5], "nice": false, "zero": false}, "axis": {"orient": "left", "values": [-5, 0, 5], "title": null}},
               "color": {"field": "m", "type": "nominal", "scale": {"domain": ["Scrambling", "Repetition"], "range": ["#0000ff", "#ff0000"]}},
               "detail": {"field": "c", "type": "nominal"},
               "order": {"value": null}}},
            {"transform": [{"filter": "datum.m === 'Scrambling'"}], "mark": {"type": "line", "strokeWidth": 2},
             "encoding": {
               "x": {"field": "x", "type": "quantitative", "scale": {"domain": [-5, 15], "nice": false, "zero": false}, "axis": {"orient": "top", "values": [-5, 0, 5, 10, 15], "title": null}},
               "y": {"field": "y", "type": "quantitative", "scale": {"domain": [-5, 5], "nice": false, "zero": false}, "axis": {"orient": "right", "values": [-5, 0, 5], "title": null}},
               "color": {"field": "m", "type": "nominal", "scale": {"domain": ["Scrambling", "Repetition"], "range": ["#0000ff", "#ff0000"]}},
               "detail": {"field": "c", "type": "nominal"},
               "order": {"value": null}}},
            {"data": {"values": [{"x": -0.58, "x2": 0.5, "y": -0.63, "y2": 0.63}]},
             "mark": {"type": "rect", "filled": false, "color": "#000000", "strokeWidth": 1},
             "encoding": {
               "x": {"field": "x", "type": "quantitative", "scale": {"domain": [-5, 15], "nice": false, "zero": false}, "axis": null},
               "x2": {"field": "x2"},
               "y": {"field": "y", "type": "quantitative", "scale": {"domain": [-5, 5], "nice": false, "zero": false}, "axis": null},
               "y2": {"field": "y2"}}},
            {"data": {"values": [{"x": -0.58, "y": -0.63, "x2": -0.58, "y2": -10.278}, {"x": 0.5, "y": -0.63, "x2": 10.58, "y2": -10.278}]},
             "mark": {"type": "rule", "color": "#000000", "strokeWidth": 1},
             "encoding": {
               "x": {"field": "x", "type": "quantitative", "scale": {"domain": [-5, 15], "nice": false, "zero": false}, "axis": null},
               "x2": {"field": "x2"},
               "y": {"field": "y", "type": "quantitative", "scale": {"domain": [-5, 5], "nice": false, "zero": false}, "axis": null},
               "y2": {"field": "y2"}}}
          ],
          "resolve": {"axis": {"x": "independent", "y": "independent"}}
        },
        {
          "width": 101, "height": 100, "data": {"name": "b2"},
          "layer": [
            {"transform": [{"filter": "datum.m === 'Repetition'"}], "mark": {"type": "line", "strokeWidth": 2, "clip": true},
             "encoding": {
               "x": {"field": "x", "type": "quantitative", "scale": {"domain": [-0.1, 0.1], "nice": false, "zero": false}, "axis": {"orient": "bottom", "values": [-0.1, 0, 0.1], "format": "~g", "title": null}},
               "y": {"field": "y", "type": "quantitative", "scale": {"domain": [-0.1, 0.1], "nice": false, "zero": false}, "axis": {"orient": "left", "values": [-0.1, 0, 0.1], "format": "~g", "title": null}},
               "color": {"field": "m", "type": "nominal", "scale": {"domain": ["Scrambling", "Repetition"], "range": ["#0000ff", "#ff0000"]}},
               "detail": {"field": "c", "type": "nominal"},
               "order": {"value": null}}},
            {"transform": [{"filter": "datum.m === 'Scrambling'"}], "mark": {"type": "line", "strokeWidth": 2, "clip": true},
             "encoding": {
               "x": {"field": "x", "type": "quantitative", "scale": {"domain": [-0.1, 0.1], "nice": false, "zero": false}, "axis": {"orient": "top", "values": [-0.1, 0, 0.1], "title": null}},
               "y": {"field": "y", "type": "quantitative", "scale": {"domain": [-0.1, 0.1], "nice": false, "zero": false}, "axis": {"orient": "right", "values": [-0.1, 0, 0.1], "title": null}},
               "color": {"field": "m", "type": "nominal", "scale": {"domain": ["Scrambling", "Repetition"], "range": ["#0000ff", "#ff0000"]}},
               "detail": {"field": "c", "type": "nominal"},
               "order": {"value": null}}}
          ],
          "resolve": {"axis": {"x": "independent", "y": "independent"}}
        }
      ]
    },
    {
      "columns": 1, "align": "each", "center": true, "bounds": "flush", "spacing": 47.5,
      "resolve": {"scale": {"x": "independent", "y": "independent", "color": "shared"}},
      "concat": [
        {
          "width": 181, "height": 90, "data": {"name": "c1"}, "title": {"text": "2.4GHz"},
          "layer": [
            {"transform": [{"filter": "datum.m === 'Repetition'"}], "mark": {"type": "line", "strokeWidth": 2},
             "encoding": {
               "x": {"field": "x", "type": "quantitative", "scale": {"domain": [-5, 15], "nice": false, "zero": false}, "axis": {"orient": "bottom", "values": [-5, 0, 5, 10, 15], "title": null}},
               "y": {"field": "y", "type": "quantitative", "scale": {"domain": [-5, 5], "nice": false, "zero": false}, "axis": {"orient": "left", "values": [-5, 0, 5], "title": null}},
               "color": {"field": "m", "type": "nominal", "scale": {"domain": ["Scrambling", "Repetition"], "range": ["#0000ff", "#ff0000"]}},
               "detail": {"field": "c", "type": "nominal"},
               "order": {"value": null}}},
            {"transform": [{"filter": "datum.m === 'Scrambling'"}], "mark": {"type": "line", "strokeWidth": 2},
             "encoding": {
               "x": {"field": "x", "type": "quantitative", "scale": {"domain": [-5, 15], "nice": false, "zero": false}, "axis": {"orient": "top", "values": [-5, 0, 5, 10, 15], "title": null}},
               "y": {"field": "y", "type": "quantitative", "scale": {"domain": [-5, 5], "nice": false, "zero": false}, "axis": {"orient": "right", "values": [-5, 0, 5], "title": null}},
               "color": {"field": "m", "type": "nominal", "scale": {"domain": ["Scrambling", "Repetition"], "range": ["#0000ff", "#ff0000"]}},
               "detail": {"field": "c", "type": "nominal"},
               "order": {"value": null}}}
          ],
          "resolve": {"axis": {"x": "independent", "y": "independent"}}
        },
        {
          "width": 181, "height": 90, "data": {"name": "c2"},
          "layer": [
            {"transform": [{"filter": "datum.m === 'Repetition'"}], "mark": {"type": "line", "strokeWidth": 2},
             "encoding": {
               "x": {"field": "x", "type": "quantitative", "scale": {"domain": [-5, 15], "nice": false, "zero": false}, "axis": {"orient": "bottom", "values": [-5, 0, 5, 10, 15], "title": null}},
               "y": {"field": "y", "type": "quantitative", "scale": {"domain": [-5, 5], "nice": false, "zero": false}, "axis": {"orient": "left", "values": [-5, 0, 5], "title": null}},
               "color": {"field": "m", "type": "nominal", "scale": {"domain": ["Scrambling", "Repetition"], "range": ["#0000ff", "#ff0000"]}},
               "detail": {"field": "c", "type": "nominal"},
               "order": {"value": null}}},
            {"transform": [{"filter": "datum.m === 'Scrambling'"}], "mark": {"type": "line", "strokeWidth": 2},
             "encoding": {
               "x": {"field": "x", "type": "quantitative", "scale": {"domain": [-5, 15], "nice": false, "zero": false}, "axis": {"orient": "top", "values": [-5, 0, 5, 10, 15], "title": null}},
               "y": {"field": "y", "type": "quantitative", "scale": {"domain": [-5, 5], "nice": false, "zero": false}, "axis": {"orient": "right", "values": [-5, 0, 5], "title": null}},
               "color": {"field": "m", "type": "nominal", "scale": {"domain": ["Scrambling", "Repetition"], "range": ["#0000ff", "#ff0000"]}},
               "detail": {"field": "c", "type": "nominal"},
               "order": {"value": null}}},
            {"data": {"values": [{"x": -0.58, "x2": 0.6, "y": -0.72, "y2": 0.72}]},
             "mark": {"type": "rect", "filled": false, "color": "#000000", "strokeWidth": 1},
             "encoding": {
               "x": {"field": "x", "type": "quantitative", "scale": {"domain": [-5, 15], "nice": false, "zero": false}, "axis": null},
               "x2": {"field": "x2"},
               "y": {"field": "y", "type": "quantitative", "scale": {"domain": [-5, 5], "nice": false, "zero": false}, "axis": null},
               "y2": {"field": "y2"}}},
            {"data": {"values": [{"x": -0.58, "y": -0.72, "x2": -0.58, "y2": -10.278}, {"x": 0.6, "y": -0.72, "x2": 10.58, "y2": -10.278}]},
             "mark": {"type": "rule", "color": "#000000", "strokeWidth": 1},
             "encoding": {
               "x": {"field": "x", "type": "quantitative", "scale": {"domain": [-5, 15], "nice": false, "zero": false}, "axis": null},
               "x2": {"field": "x2"},
               "y": {"field": "y", "type": "quantitative", "scale": {"domain": [-5, 5], "nice": false, "zero": false}, "axis": null},
               "y2": {"field": "y2"}}}
          ],
          "resolve": {"axis": {"x": "independent", "y": "independent"}}
        },
        {
          "width": 101, "height": 100, "data": {"name": "c2"},
          "layer": [
            {"transform": [{"filter": "datum.m === 'Repetition'"}], "mark": {"type": "line", "strokeWidth": 2, "clip": true},
             "encoding": {
               "x": {"field": "x", "type": "quantitative", "scale": {"domain": [-0.1, 0.1], "nice": false, "zero": false}, "axis": {"orient": "bottom", "values": [-0.1, 0, 0.1], "format": "~g", "title": null}},
               "y": {"field": "y", "type": "quantitative", "scale": {"domain": [-0.1, 0.1], "nice": false, "zero": false}, "axis": {"orient": "left", "values": [-0.1, 0, 0.1], "format": "~g", "title": null}},
               "color": {"field": "m", "type": "nominal", "scale": {"domain": ["Scrambling", "Repetition"], "range": ["#0000ff", "#ff0000"]}},
               "detail": {"field": "c", "type": "nominal"},
               "order": {"value": null}}},
            {"transform": [{"filter": "datum.m === 'Scrambling'"}], "mark": {"type": "line", "strokeWidth": 2, "clip": true},
             "encoding": {
               "x": {"field": "x", "type": "quantitative", "scale": {"domain": [-0.1, 0.1], "nice": false, "zero": false}, "axis": {"orient": "top", "values": [-0.1, 0, 0.1], "title": null}},
               "y": {"field": "y", "type": "quantitative", "scale": {"domain": [-0.1, 0.1], "nice": false, "zero": false}, "axis": {"orient": "right", "values": [-0.1, 0, 0.1], "title": null}},
               "color": {"field": "m", "type": "nominal", "scale": {"domain": ["Scrambling", "Repetition"], "range": ["#0000ff", "#ff0000"]}},
               "detail": {"field": "c", "type": "nominal"},
               "order": {"value": null}}}
          ],
          "resolve": {"axis": {"x": "independent", "y": "independent"}}
        }
      ]
    }
  ]
}
